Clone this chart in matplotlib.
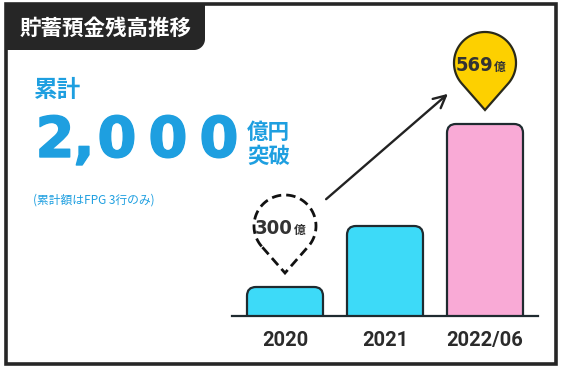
import matplotlib.pyplot as plt
import matplotlib.patheffects as pe
import numpy as np
from matplotlib.patches import FancyBboxPatch, PathPatch, Rectangle
from matplotlib.path import Path
from matplotlib import font_manager
from matplotlib.font_manager import FontProperties

# ---- data ----
years = ['2020', '2021', '2022/06']
bar_heights = [29, 90, 192]          # drawn heights (illustrative, not to scale)
bar_colors = ['#3ddaf8', '#3ddaf8', '#f9aad6']
pin_values = {0: '300', 2: '569'}     # bar index -> label (億)
pin_styles = {0: 'dashed', 2: 'yellow'}
title = '貯蓄預金残高推移'
head_top = '累計'
head_num = '2,000'
head_unit = ['億円', '突破']
note = '(累計額はFPG 3行のみ)'

JP = 'Noto Sans CJK JP'

# narrow bold face for the pin numbers, if one is installed
narrow = None
for f in font_manager.fontManager.ttflist:
    cond = ('Narrow' in f.name or 'Condensed' in f.name
            or f.stretch in ('condensed', 'semi-condensed', 'extra-condensed', 300))
    if cond and f.weight in ('bold', 700):
        narrow = FontProperties(fname=f.fname)
        break
if narrow is None:
    narrow = FontProperties(family='Roboto', weight='bold')
    pin_fs = 13.5
else:
    pin_fs = 14.5

dark = '#262626'
blue = '#1e9fe0'
edge = '#1f2b30'

W, H = 567, 369
fig = plt.figure(figsize=(W / 100, H / 100), dpi=100)
fig.patch.set_facecolor('white')

# overlay in pixel coords, y pointing down
ov = fig.add_axes([0, 0, 1, 1])
ov.set_xlim(0, W)
ov.set_ylim(H, 0)
ov.axis('off')

# bar axes
base_y = 316
ax = fig.add_axes([232 / W, (H - base_y) / H, 306 / W, (base_y - 10) / H])
ax.set_facecolor('none')
ax.set_xlim(-0.53, 2.53)
ax.set_ylim(0, base_y - 10)
for s in ax.spines.values():
    s.set_visible(False)
ax.set_yticks([])

x = np.arange(len(years))
bars = ax.bar(x, bar_heights, width=0.76, color=bar_colors)
for b, c in zip(bars, bar_colors):
    b.set_visible(False)
    fb = FancyBboxPatch((b.get_x(), -20), b.get_width(), b.get_height() + 20,
                        boxstyle='round,pad=0,rounding_size=0.09',
                        mutation_aspect=100, fc=c, ec=edge, lw=1.6)
    ax.add_patch(fb)
ax.axhline(0, color=edge, lw=1.6, clip_on=False, zorder=5)
ax.set_xticks(x, years, fontsize=14.5, fontweight='bold', family='Roboto', color='#2b2b2b')
ax.tick_params(length=0, pad=11)

# ---- frame & title tab ----
ov.add_patch(Rectangle((5.5, 4), 550.5, 359.5, fill=False, lw=2.6, ec=dark))
r = 11
a = np.linspace(0, np.pi / 2, 20)
arc = np.column_stack([205 - r + r * np.cos(a), 50 - r + r * np.sin(a)])
tab = np.vstack([[5, 3], [205, 3], arc, [5, 50], [5, 3]])
ov.add_patch(PathPatch(Path(tab, closed=True), fc=dark, ec='none'))
ov.text(106, 28, title, color='white', fontsize=15.5, fontweight='bold', family=JP,
        ha='center', va='center')

# ---- headline ----
ov.text(34, 90, head_top, color=blue, fontsize=17, fontweight='bold', family=JP,
        ha='left', va='center')
# big number, one glyph at a time to get the wide spacing of the original
fat = [pe.withStroke(linewidth=1.0, foreground=blue)]
for ch, cxp in zip(head_num, [55, 84, 117, 168, 219]):
    ov.text(cxp, 157, ch, color=blue, fontsize=40.5, fontweight='bold',
            family='DejaVu Sans', ha='center', va='baseline', path_effects=fat)
ov.text(247, 132, head_unit[0], color=blue, fontsize=15.5, fontweight='bold', family=JP,
        ha='left', va='center')
ov.text(247, 156, head_unit[1], color=blue, fontsize=15.5, fontweight='bold', family=JP,
        ha='left', va='center')
ov.text(33, 200, note, color=blue, fontsize=8.5, family=JP, ha='left', va='center')


# ---- pins ----
def pin_path(cx, cy, r, tip):
    th = np.arccos(r / (tip - cy))
    ang = np.linspace(np.pi / 2 + th, 2.5 * np.pi - th, 90)
    v = np.column_stack([cx + r * np.cos(ang), cy + r * np.sin(ang)])
    v = np.vstack([v, [cx, tip], v[:1]])
    return Path(v, closed=True)


to_ov = ov.transData.inverted()
centers = {}
for i, lab in pin_values.items():
    px, py = to_ov.transform(ax.transData.transform((x[i], bar_heights[i])))
    tip = py - 14
    cy = tip - 47
    centers[i] = (px, cy)
    if pin_styles[i] == 'dashed':
        patch = PathPatch(pin_path(px, cy, 31, tip), fc='white', ec='#111111', lw=2.0,
                          ls=(0, (3.4, 1.8)))
    else:
        patch = PathPatch(pin_path(px, cy, 31, tip), fc='#fdd000', ec='#2a2a1a', lw=1.6)
    ov.add_patch(patch)
    ov.text(px + 8, cy + 8, lab, color='#333333', fontsize=pin_fs,
            fontproperties=narrow, ha='right', va='baseline')
    ov.text(px + 9, cy + 8, '億', color='#333333', fontsize=8.5, fontweight='bold',
            family=JP, ha='left', va='baseline')

# arrow between pins
(x0, y0), (x1, y1) = centers[0], centers[2]
ov.annotate('', xy=(x1 - 35, y1 + 29), xytext=(x0 + 39, y0 - 25),
            arrowprops=dict(arrowstyle='->', lw=1.7, color='#222222', mutation_scale=22))

fig.savefig('out.png', dpi=100, facecolor='white')
